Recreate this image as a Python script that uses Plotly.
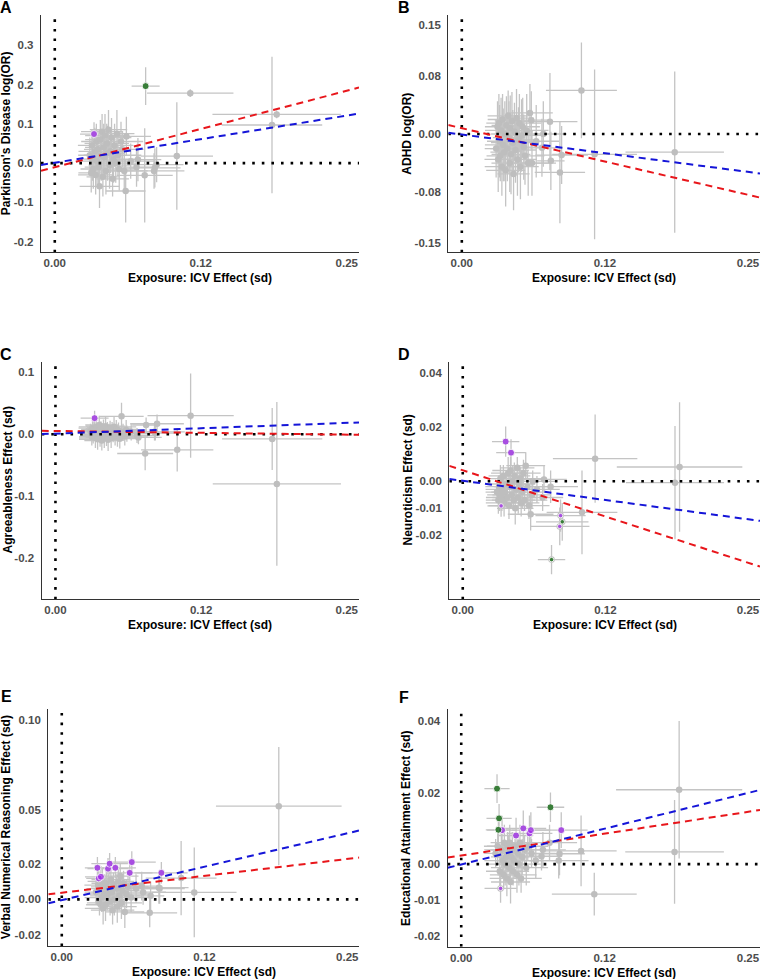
import plotly.graph_objects as go

W, H = 760, 979
FONT = "Liberation Sans, Arial, sans-serif"
GRAY = "#BEBEBE"
BAR = "#C4C4C4"
PURPLE = "#A020F0"
GREEN = "#006400"

# exposure: ICV effect (sd) and its SE for each SNP (shared by all outcomes)
icv_beta = [0.0300, 0.0312, 0.0318, 0.0324, 0.0330, 0.0336, 0.0343, 0.0350, 0.0356, 0.0362,
            0.0370, 0.0376, 0.0383, 0.0390, 0.0398, 0.0405, 0.0412, 0.0419, 0.0423, 0.0430,
            0.0438, 0.0445, 0.0452, 0.0460, 0.0469, 0.0478, 0.0486, 0.0495, 0.0503, 0.0512,
            0.0522, 0.0532, 0.0541, 0.0552, 0.0567, 0.0580, 0.0595, 0.0607, 0.0613, 0.0650,
            0.0700, 0.0712, 0.0770, 0.0778, 0.0850, 0.0857, 0.0872, 0.1045, 0.1160, 0.1860, 0.1900]
icv_se = [0.010, 0.011, 0.012, 0.011, 0.011, 0.012, 0.014, 0.015, 0.013, 0.016,
          0.012, 0.012, 0.017, 0.013, 0.015, 0.018, 0.014, 0.016, 0.013, 0.017,
          0.015, 0.019, 0.014, 0.016, 0.018, 0.015, 0.017, 0.014, 0.019, 0.016,
          0.018, 0.015, 0.020, 0.017, 0.019, 0.018, 0.020, 0.017, 0.021, 0.020,
          0.018, 0.020, 0.024, 0.012, 0.026, 0.022, 0.023, 0.031, 0.037, 0.043, 0.055]

# A: Parkinson's disease
pd_beta = [0.020, -0.025, 0.045, 0.010, -0.015, 0.074, 0.030, -0.030, 0.055, 0.005,
           0.035, -0.010, -0.059, 0.060, 0.020, 0.080, -0.035, 0.040, 0.015, 0.070,
           -0.020, 0.050, 0.025, 0.085, -0.005, 0.030, 0.065, -0.040, 0.010, 0.045,
           0.000, 0.075, 0.020, -0.015, 0.055, 0.035, -0.020, -0.071, 0.068, 0.005,
           -0.010, 0.009, -0.031, 0.196, -0.020, -0.012, -0.004, 0.018, 0.178, 0.097, 0.124]
pd_se = [0.045, 0.05, 0.04, 0.055, 0.05, 0.03, 0.06, 0.05, 0.045, 0.06,
         0.05, 0.055, 0.055, 0.05, 0.065, 0.045, 0.05, 0.06, 0.05, 0.055,
         0.06, 0.05, 0.07, 0.05, 0.06, 0.055, 0.05, 0.045, 0.06, 0.055,
         0.05, 0.06, 0.05, 0.055, 0.05, 0.045, 0.05, 0.08, 0.05, 0.045,
         0.05, 0.055, 0.12, 0.048, 0.045, 0.05, 0.045, 0.137, 0.01, 0.174, 0.01]

# B: ADHD
adhd_beta = [-0.020, 0.010, -0.035, 0.015, -0.010, -0.030, 0.005, -0.045, 0.020, -0.015,
             -0.025, 0.000, -0.050, 0.012, -0.020, 0.025, -0.005, -0.040, 0.008, -0.028,
             0.018, -0.012, -0.055, 0.003, -0.022, 0.022, -0.035, -0.008, 0.015, -0.045,
             -0.002, 0.010, -0.018, -0.030, 0.005, -0.040, 0.029, 0.019, -0.040, -0.010,
             -0.019, 0.000, 0.017, -0.037, None, -0.053, -0.029, 0.060, -0.028, -0.025, None]
adhd_se = [0.04, 0.035, 0.045, 0.04, 0.05, 0.035, 0.045, 0.04, 0.035, 0.05,
           0.04, 0.045, 0.05, 0.04, 0.045, 0.035, 0.05, 0.04, 0.045, 0.055,
           0.04, 0.045, 0.05, 0.04, 0.045, 0.04, 0.05, 0.045, 0.04, 0.045,
           0.05, 0.04, 0.045, 0.04, 0.05, 0.045, 0.04, 0.04, 0.045, 0.05,
           0.04, 0.045, 0.067, 0.04, None, 0.07, 0.04, 0.066, 0.117, 0.111, None]

# C: agreeableness
agree_beta = [0.005, -0.004, 0.010, 0.000, 0.008, 0.026, -0.006, 0.012, 0.002, -0.008,
              0.006, 0.015, -0.002, 0.009, -0.010, 0.004, 0.011, -0.005, 0.001, 0.013,
              -0.003, 0.007, -0.009, 0.003, 0.010, -0.006, 0.005, 0.000, 0.012, -0.004,
              0.008, -0.002, 0.006, -0.007, 0.029, 0.003, -0.003, 0.007, 0.001, 0.004,
              -0.002, -0.005, -0.031, 0.015, 0.004, 0.002, 0.017, -0.025, 0.030, -0.0075, -0.080]
agree_se = [0.012, 0.014, 0.011, 0.015, 0.013, 0.012, 0.016, 0.012, 0.014, 0.017,
            0.013, 0.015, 0.018, 0.012, 0.016, 0.014, 0.013, 0.017, 0.012, 0.015,
            0.016, 0.013, 0.018, 0.014, 0.012, 0.016, 0.015, 0.013, 0.017, 0.014,
            0.015, 0.018, 0.013, 0.016, 0.022, 0.014, 0.015, 0.016, 0.013, 0.014,
            0.012, 0.011, 0.027, 0.012, 0.014, 0.012, 0.015, 0.035, 0.068, 0.05, 0.132]

# D: neuroticism
neuro_beta = [-0.004, -0.007, -0.002, -0.005, 0.001, -0.0091, -0.006, -0.003, 0.002, -0.008,
              -0.004, 0.0147, -0.001, -0.006, 0.003, -0.009, -0.002, 0.004, 0.0106, -0.005,
              0.000, -0.007, 0.002, -0.010, -0.003, 0.005, -0.006, -0.001, 0.001, -0.008,
              -0.004, 0.003, -0.007, 0.0058, -0.002, -0.009, -0.0122, -0.005, 0.000, -0.003,
              -0.006, 0.0007, -0.002, -0.029, -0.0167, -0.0127, -0.015, -0.0115, 0.0084, -0.0005, 0.0053]
neuro_se = [0.004, 0.005, 0.004, 0.006, 0.005, 0.004, 0.005, 0.006, 0.004, 0.005,
            0.006, 0.0056, 0.005, 0.004, 0.006, 0.005, 0.004, 0.006, 0.005, 0.005,
            0.006, 0.004, 0.005, 0.006, 0.005, 0.004, 0.006, 0.005, 0.004, 0.005,
            0.006, 0.005, 0.004, 0.005, 0.006, 0.005, 0.006, 0.005, 0.004, 0.005,
            0.005, 0.005, 0.006, 0.0054, 0.007, 0.006, 0.007, 0.0155, 0.0163, 0.021, 0.024]

# E: verbal numerical reasoning
vnr_beta = [0.004, 0.0176, 0.008, 0.0117, -0.002, 0.006, 0.0126, 0.001, 0.010, -0.005,
            0.003, 0.007, -0.003, 0.009, 0.002, 0.0171, 0.005, 0.0199, -0.001, 0.011,
            0.004, -0.006, 0.008, 0.000, 0.0176, 0.006, -0.004, 0.010, 0.002, 0.013,
            -0.002, 0.005, 0.009, -0.007, 0.003, 0.007, 0.0148, 0.001, 0.0208, 0.006,
            0.0074, 0.004, -0.0075, 0.002, 0.0065, 0.006, 0.0148, 0.0119, 0.0039, None, 0.052]
vnr_se = [0.007, 0.006, 0.008, 0.006, 0.007, 0.009, 0.006, 0.008, 0.007, 0.009,
          0.008, 0.007, 0.009, 0.007, 0.008, 0.006, 0.009, 0.006, 0.008, 0.007,
          0.009, 0.008, 0.007, 0.009, 0.006, 0.008, 0.009, 0.007, 0.008, 0.007,
          0.009, 0.008, 0.007, 0.009, 0.008, 0.007, 0.006, 0.008, 0.006, 0.008,
          0.008, 0.007, 0.008, 0.008, 0.009, 0.0085, 0.006, 0.0207, 0.025, None, 0.033]

# F: educational attainment
ea_beta = [0.003, 0.0211, 0.005, 0.0096, 0.0128, -0.002, -0.0068, 0.004, 0.0095, 0.001,
           -0.003, 0.006, 0.000, 0.002, -0.004, 0.005, 0.003, -0.001, 0.006, -0.005,
           0.002, 0.004, -0.002, 0.001, 0.005, 0.008, -0.003, 0.003, 0.000, 0.006,
           -0.004, 0.002, 0.010, 0.004, -0.001, 0.005, 0.0086, 0.0095, 0.003, 0.001,
           0.0022, 0.004, 0.006, 0.0159, 0.001, 0.0029, 0.0095, 0.0037, -0.0084, 0.0034, 0.0208]
ea_se = [0.004, 0.004, 0.005, 0.004, 0.004, 0.005, 0.004, 0.005, 0.004, 0.005,
         0.004, 0.005, 0.006, 0.004, 0.005, 0.004, 0.005, 0.004, 0.005, 0.006,
         0.004, 0.005, 0.004, 0.005, 0.004, 0.005, 0.005, 0.004, 0.006, 0.005,
         0.004, 0.005, 0.005, 0.004, 0.005, 0.004, 0.005, 0.005, 0.004, 0.005,
         0.004, 0.005, 0.005, 0.0041, 0.005, 0.006, 0.005, 0.0099, 0.006, 0.0145, 0.0192]

# highlighted SNPs (indices) and the small-marker ones
pd_purple, pd_green, pd_small = [5], [43], []
adhd_purple, adhd_green, adhd_small = [], [], []
agree_purple, agree_green, agree_small = [5], [], []
neuro_purple, neuro_green, neuro_small = [5, 11, 18, 44, 45], [43, 46], [5, 44, 45, 43, 46]
vnr_purple, vnr_green, vnr_small = [1, 3, 6, 15, 17, 24, 36, 38, 46], [], []
ea_purple, ea_green, ea_small = [6, 8, 25, 32, 36, 37, 46], [1, 3, 4, 43], [6]

# method lines: (intercept, slope)
pd_red, pd_blue = (-0.0104, 0.778), (0.001, 0.480)
adhd_red, adhd_blue = (0.008, -0.367), (-0.0007, -0.206)
agree_red, agree_blue = (0.0053, -0.0236), (0.0011, 0.069)
neuro_red, neuro_blue = (0.0041, -0.137), (0.0002, -0.057)
vnr_red, vnr_blue = (0.0037, 0.0753), (-0.0004, 0.149)
ea_red, ea_blue = (0.0024, 0.0489), (-0.0001, 0.080)

x_ticks = [0, 0.125, 0.25]
x_ticktext = ["0.00", "0.12", "0.25"]
XR = [-0.0118, 0.2605]

panels = [
    dict(letter="A", title="Parkinson's Disease log(OR)", b=pd_beta, se=pd_se,
         purple=pd_purple, green=pd_green, small=pd_small, red=pd_red, blue=pd_blue,
         yr=[-0.227, 0.377], ticks=[-0.2, -0.1, 0, 0.1, 0.2, 0.3],
         ticktext=["-0.2", "-0.1", "0.0", "0.1", "0.2", "0.3"],
         box=(41, 359, 15, 252.3), let_xy=(6, 7), ytx=5.5),
    dict(letter="B", title="ADHD log(OR)", b=adhd_beta, se=adhd_se,
         purple=adhd_purple, green=adhd_green, small=adhd_small, red=adhd_red, blue=adhd_blue,
         yr=[-0.163, 0.164], ticks=[-0.15, -0.08, 0, 0.08, 0.15],
         ticktext=["-0.15", "-0.08", "0.00", "0.08", "0.15"],
         box=(448.3, 760, 15, 252.3), let_xy=(403.5, 7), ytx=407),
    dict(letter="C", title="Agreeableness Effect (sd)", b=agree_beta, se=agree_se,
         purple=agree_purple, green=agree_green, small=agree_small, red=agree_red, blue=agree_blue,
         yr=[-0.266, 0.117], ticks=[-0.2, -0.1, 0, 0.1],
         ticktext=["-0.2", "-0.1", "0.0", "0.1"],
         box=(41.7, 359, 361.7, 599.3), let_xy=(6, 354), ytx=7),
    dict(letter="D", title="Neuroticism Effect (sd)", b=neuro_beta, se=neuro_se,
         purple=neuro_purple, green=neuro_green, small=neuro_small, red=neuro_red, blue=neuro_blue,
         yr=[-0.0437, 0.0443], ticks=[-0.02, -0.01, 0, 0.02, 0.04],
         ticktext=["-0.02", "-0.01", "0.00", "0.02", "0.04"],
         box=(449.3, 760, 361.7, 599.3), let_xy=(404, 354), ytx=407),
    dict(letter="E", title="Verbal Numerical Reasoning Effect (sd)", b=vnr_beta, se=vnr_se,
         purple=vnr_purple, green=vnr_green, small=vnr_small, red=vnr_red, blue=vnr_blue,
         yr=[-0.026, 0.106], ticks=[-0.02, 0, 0.02, 0.05, 0.10],
         ticktext=["-0.02", "0.00", "0.02", "0.05", "0.10"],
         box=(48.3, 359.3, 709.3, 946), let_xy=(6, 696), ytx=5.5),
    dict(letter="F", title="Educational Attainment Effect (sd)", b=ea_beta, se=ea_se,
         purple=ea_purple, green=ea_green, small=ea_small, red=ea_red, blue=ea_blue,
         yr=[-0.0231, 0.0433], ticks=[-0.02, -0.01, 0, 0.02, 0.04],
         ticktext=["-0.02", "-0.01", "0.00", "0.02", "0.04"],
         box=(447.7, 760, 709.3, 946.7), let_xy=(404, 697), ytx=406),
]

fig = go.Figure()
annotations = []
axis_font = dict(family=FONT, size=11.5, color="#4D4D4D", weight="bold")

for i, p in enumerate(panels, start=1):
    xa, ya = f"x{i}", f"y{i}"
    # SNP estimates with error bars
    fig.add_trace(go.Scatter(
        x=icv_beta, y=p["b"], mode="markers", xaxis=xa, yaxis=ya,
        marker=dict(color=GRAY, size=6.5),
        error_x=dict(type="data", array=icv_se, color=BAR, thickness=1.3, width=0),
        error_y=dict(type="data", array=p["se"], color=BAR, thickness=1.3, width=0),
        showlegend=False, hoverinfo="skip"))
    # reference lines at zero
    dot = dict(color="black", width=2.6, dash="2.6px,7px")
    fig.add_trace(go.Scatter(x=XR, y=[0, 0], mode="lines", line=dot,
                             xaxis=xa, yaxis=ya, showlegend=False, hoverinfo="skip"))
    fig.add_trace(go.Scatter(x=[0, 0], y=p["yr"], mode="lines", line=dot,
                             xaxis=xa, yaxis=ya, showlegend=False, hoverinfo="skip"))
    # method lines
    for (a, s), col in ((p["red"], "#E8161B"), (p["blue"], "#1515D8")):
        fig.add_trace(go.Scatter(
            x=XR, y=[a + s * XR[0], a + s * XR[1]], mode="lines",
            line=dict(color=col, width=2, dash="7px,5px"),
            xaxis=xa, yaxis=ya, showlegend=False, hoverinfo="skip"))
    # highlighted SNPs
    for idx, col in ((p["purple"], PURPLE), (p["green"], GREEN)):
        if not idx:
            continue
        fig.add_trace(go.Scatter(
            x=[icv_beta[k] for k in idx], y=[p["b"][k] for k in idx],
            mode="markers", xaxis=xa, yaxis=ya,
            marker=dict(color=col, size=[4.5 if k in p["small"] else 7 for k in idx]),
            showlegend=False, hoverinfo="skip"))

    x0, x1, y0, y1 = p["box"]
    axcommon = dict(showline=True, linecolor="#333333", linewidth=1.4, showgrid=False,
                    zeroline=False, ticks="", tickfont=axis_font)
    fig.update_layout(**{
        f"xaxis{i}": dict(domain=[x0 / W, min(x1 / W, 1)], range=XR, anchor=ya,
                          tickmode="array", tickvals=x_ticks, ticktext=x_ticktext,
                          ticklabelstandoff=0, **axcommon),
        f"yaxis{i}": dict(domain=[1 - y1 / H, 1 - y0 / H], range=p["yr"], anchor=xa,
                          tickmode="array", tickvals=p["ticks"], ticktext=p["ticktext"],
                          ticklabelstandoff=4, **axcommon),
    })
    lx, ly = p["let_xy"]
    annotations.append(dict(text=p["letter"], x=lx / W, y=1 - ly / H, xref="paper", yref="paper",
                            showarrow=False, xanchor="center", yanchor="middle",
                            font=dict(family=FONT, size=16, color="black", weight="bold")))
    annotations.append(dict(text="Exposure: ICV Effect (sd)", x=(x0 + x1) / 2 / W,
                            y=1 - (y1 + 26) / H, xref="paper", yref="paper", showarrow=False,
                            xanchor="center", yanchor="middle",
                            font=dict(family=FONT, size=12, color="black", weight="bold")))
    annotations.append(dict(text=p["title"], x=p["ytx"] / W, y=1 - (y0 + y1) / 2 / H,
                            xref="paper", yref="paper", showarrow=False, textangle=-90,
                            xanchor="center", yanchor="middle",
                            font=dict(family=FONT, size=12, color="black", weight="bold")))

fig.update_layout(width=W, height=H, margin=dict(l=0, r=0, t=0, b=0),
                  paper_bgcolor="white", plot_bgcolor="white",
                  annotations=annotations, showlegend=False)

fig.write_html("out.html", config={"displayModeBar": False},
               post_script="document.body.style.margin='0';")
